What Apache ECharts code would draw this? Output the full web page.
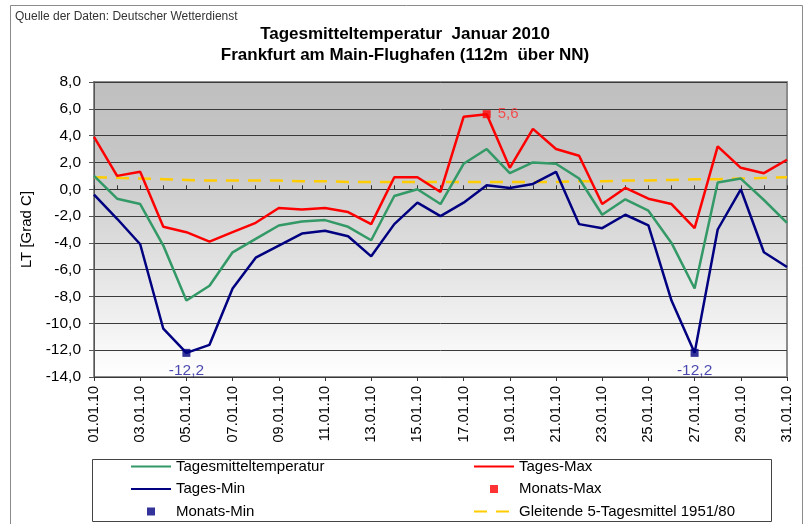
<!DOCTYPE html>
<html>
<head>
<meta charset="utf-8">
<script src="https://cdn.jsdelivr.net/npm/echarts@6/dist/echarts.min.js"></script>
<style>
html,body{margin:0;padding:0;background:#fff;}
#chart{width:810px;height:524px;}
</style>
</head>
<body>
<div id="chart"></div>
<script>
const days = ['01.01.10','02.01.10','03.01.10','04.01.10','05.01.10','06.01.10','07.01.10','08.01.10','09.01.10','10.01.10',
  '11.01.10','12.01.10','13.01.10','14.01.10','15.01.10','16.01.10','17.01.10','18.01.10','19.01.10','20.01.10',
  '21.01.10','22.01.10','23.01.10','24.01.10','25.01.10','26.01.10','27.01.10','28.01.10','29.01.10','30.01.10','31.01.10'];
const tagesmittel = [1.0,-0.7,-1.1,-4.2,-8.3,-7.2,-4.7,-3.7,-2.7,-2.4,-2.3,-2.8,-3.8,-0.5,0.0,-1.1,1.9,3.0,1.2,2.0,1.9,0.8,-1.9,-0.75,-1.6,-4.0,-7.4,0.5,0.8,-0.8,-2.5];
const tagesMax = [3.9,1.0,1.3,-2.8,-3.2,-3.9,-3.2,-2.5,-1.4,-1.5,-1.4,-1.7,-2.6,0.9,0.9,-0.2,5.4,5.6,1.6,4.5,3.0,2.5,-1.1,0.1,-0.7,-1.1,-2.9,3.2,1.6,1.2,2.2];
const tagesMin = [-0.4,-2.2,-4.1,-10.4,-12.2,-11.6,-7.4,-5.1,-4.2,-3.3,-3.1,-3.5,-5.0,-2.6,-1.0,-2.0,-1.0,0.3,0.1,0.4,1.3,-2.6,-2.9,-1.9,-2.7,-8.3,-12.2,-3.0,0.0,-4.7,-5.8];
const gleitend = [0.9,0.85,0.8,0.75,0.7,0.65,0.65,0.65,0.65,0.6,0.6,0.55,0.55,0.55,0.55,0.55,0.55,0.55,0.55,0.55,0.55,0.6,0.6,0.65,0.65,0.7,0.75,0.75,0.8,0.85,0.9];
const monatsMax = [['18.01.10', 5.6]];
const monatsMin = [['05.01.10', -12.2], ['27.01.10', -12.2]];
const yTicks = [-14, 8, 2];

const fmt = v => v.toFixed(1).replace('.', ',');
const chart = echarts.init(document.getElementById('chart'), null, {renderer: 'canvas'});
const font = 'Liberation Sans, Arial, sans-serif';
const squareIcon = 'path://M0,0H10V10H0Z';
const hideSym = {color: 'rgba(0,0,0,0)', opacity: 0, borderWidth: 0};

chart.setOption({
  animation: false,
  textStyle: {fontFamily: font},
  title: [{
    text: 'Quelle der Daten: Deutscher Wetterdienst',
    left: 15, top: 11, padding: 0,
    textStyle: {fontSize: 12, fontWeight: 'normal', color: '#333', fontFamily: font}
  }, {
    text: 'Tagesmitteltemperatur  Januar 2010\nFrankfurt am Main-Flughafen (112m  über NN)',
    left: 'center', top: 24, padding: 0,
    textStyle: {fontSize: 17, fontWeight: 'bold', color: '#000', lineHeight: 21, fontFamily: font}
  }],
  graphic: [
    {type: 'rect', z: -10, shape: {x: 10.5, y: 5.5, width: 792, height: 530}, style: {fill: 'none', stroke: '#8a8a8a', lineWidth: 1}},
    {type: 'rect', shape: {x: 92.5, y: 459.5, width: 679, height: 62}, style: {fill: 'none', stroke: '#444', lineWidth: 1}}
  ],
  grid: {
    left: 94, right: 23, top: 82, bottom: 147,
    show: true,
    borderColor: '#8c8c8c', borderWidth: 2,
    backgroundColor: {type: 'linear', x: 0, y: 0, x2: 0, y2: 1, colorStops: [
      {offset: 0, color: '#bfbfbf'}, {offset: 0.25, color: '#c6c6c6'}, {offset: 1, color: '#ffffff'}]}
  },
  legend: [{
    orient: 'vertical', left: 130, top: 459, padding: 0, itemWidth: 40, itemHeight: 8, itemGap: 7.5,
    textStyle: {fontSize: 15, color: '#000', fontFamily: font},
    data: [
      {name: 'Tagesmitteltemperatur', itemStyle: hideSym},
      {name: 'Tages-Min', itemStyle: hideSym},
      {name: 'Monats-Min', icon: squareIcon}
    ]
  }, {
    orient: 'vertical', left: 473, top: 459, padding: 0, itemWidth: 40, itemHeight: 8, itemGap: 7.5,
    textStyle: {fontSize: 15, color: '#000', fontFamily: font},
    data: [
      {name: 'Tages-Max', itemStyle: hideSym},
      {name: 'Monats-Max', icon: squareIcon},
      {name: 'Gleitende 5-Tagesmittel 1951/80', itemStyle: hideSym}
    ]
  }],
  xAxis: [{
    type: 'category', data: days, boundaryGap: false, position: 'bottom',
    axisLine: {show: false, onZero: false}, axisTick: {show: false},
    axisLabel: {rotate: 90, interval: 1, margin: 9, fontSize: 14.5, color: '#000', fontFamily: font},
    splitLine: {show: false}
  }, {
    type: 'category', data: days, boundaryGap: false, position: 'bottom',
    axisLine: {show: true, onZero: true, lineStyle: {color: '#333', width: 1}},
    axisTick: {show: true, inside: true, interval: 0, length: 4, lineStyle: {color: '#333'}},
    axisLabel: {show: false}, splitLine: {show: false}
  }, {
    type: 'category', data: days, boundaryGap: false, position: 'bottom',
    axisLine: {show: false, onZero: true},
    axisTick: {show: true, inside: false, interval: 1, length: 4, lineStyle: {color: '#333'}},
    axisLabel: {show: false}, splitLine: {show: false}
  }],
  yAxis: {
    type: 'value', min: yTicks[0], max: yTicks[1], interval: yTicks[2],
    name: 'LT [Grad C]', nameLocation: 'middle', nameGap: 58, nameRotate: 90,
    nameTextStyle: {fontSize: 15, color: '#000', fontFamily: font},
    axisLine: {show: true, lineStyle: {color: '#555', width: 1}},
    axisTick: {show: true, length: 5, lineStyle: {color: '#555'}},
    axisLabel: {formatter: fmt, fontSize: 15.5, color: '#000', margin: 13, fontFamily: font},
    splitLine: {show: true, lineStyle: {color: '#3a3a3a', width: 1}}
  },
  series: [{
    name: 'Tagesmitteltemperatur', type: 'line', data: tagesmittel, xAxisIndex: 0,
    symbol: 'none', lineStyle: {color: '#339966', width: 2.5}, itemStyle: {color: '#339966'}, z: 3
  }, {
    name: 'Tages-Max', type: 'line', data: tagesMax, xAxisIndex: 0,
    symbol: 'none', lineStyle: {color: '#ff0000', width: 2.5}, itemStyle: {color: '#ff0000'}, z: 3
  }, {
    name: 'Tages-Min', type: 'line', data: tagesMin, xAxisIndex: 0,
    symbol: 'none', lineStyle: {color: '#000080', width: 2.5}, itemStyle: {color: '#000080'}, z: 3
  }, {
    name: 'Monats-Max', type: 'scatter', data: monatsMax, xAxisIndex: 0,
    symbol: 'rect', symbolSize: 8, itemStyle: {color: '#ff0000'}, z: 5,
    label: {show: true, position: 'right', distance: 7, formatter: p => fmt(p.value[1]), fontSize: 15, color: '#ff3030', fontFamily: font}
  }, {
    name: 'Monats-Min', type: 'scatter', data: monatsMin, xAxisIndex: 0,
    symbol: 'rect', symbolSize: 8, itemStyle: {color: '#000080'}, z: 5,
    label: {show: true, position: 'bottom', distance: 6, formatter: p => fmt(p.value[1]), fontSize: 15.5, color: '#1a1a9a', fontFamily: font}
  }, {
    name: 'Gleitende 5-Tagesmittel 1951/80', type: 'line', data: gleitend, xAxisIndex: 0,
    symbol: 'none', lineStyle: {color: '#ffcc00', width: 2.5, type: [13, 9]}, itemStyle: {color: '#ffcc00'}, z: 2
  }]
});
</script>
</body>
</html>
